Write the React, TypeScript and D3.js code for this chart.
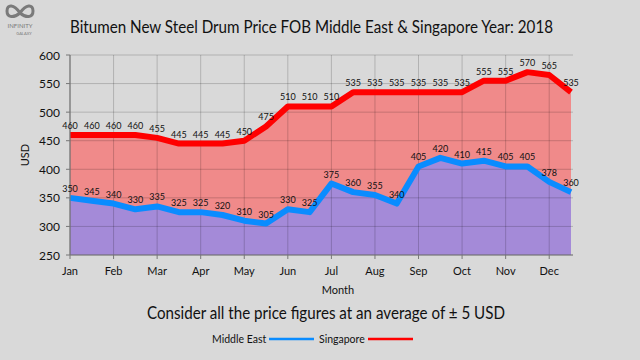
import React from "react";
import * as d3 from "d3";

const months = ["Jan", "Feb", "Mar", "Apr", "May", "Jun", "Jul", "Aug", "Sep", "Oct", "Nov", "Dec"];
// two readings per month
const singapore = [460, 460, 460, 460, 455, 445, 445, 445, 450, 475, 510, 510, 510, 535, 535, 535, 535, 535, 535, 555, 555, 570, 565, 535];
const middleEast = [350, 345, 340, 330, 335, 325, 325, 320, 310, 305, 330, 325, 375, 360, 355, 340, 405, 420, 410, 415, 405, 405, 378, 360];
const yTicks = [250, 300, 350, 400, 450, 500, 550, 600];

const FONT = "Lato, 'Open Sans', sans-serif";

const App = () => {
  const width = 640;
  const height = 360;
  const left = 70;
  const right = 573;
  const top = 55;
  const bottom = 255;

  const x = d3.scaleLinear().domain([0, singapore.length - 1]).range([left, 571]);
  const y = d3.scaleLinear().domain([250, 600]).range([bottom, top]);

  const area = d3
    .area<number>()
    .x((_, i) => x(i))
    .y0(y(250))
    .y1((d) => y(d));
  const line = d3
    .line<number>()
    .x((_, i) => x(i))
    .y((d) => y(d));

  return (
    <svg width={width} height={height} style={{ position: "absolute", left: 0, top: 0, background: "#d9d9d9" }}>
      <rect width={width} height={height} fill="#d9d9d9" />

      {/* logo */}
      <g fill="none" stroke="#7a7a7a" strokeWidth={3}>
        <path d="M20,13 C14,4 7,4 7,11 C7,18 14,18 20,13 C26,4 33,4 33,11 C33,18 26,18 20,13 Z" />
      </g>
      <text x={20} y={28} fontSize={6} fill="#7a7a7a" textAnchor="middle" fontFamily={FONT}>INFINITY</text>
      <text x={24} y={35} fontSize={4} fill="#7a7a7a" textAnchor="middle" fontFamily={FONT}>GALAXY</text>

      <text x={70} y={33} fontSize={16.5} fill="#111" fontFamily={FONT} textLength={483} lengthAdjust="spacingAndGlyphs">
        Bitumen New Steel Drum Price FOB Middle East &amp; Singapore Year: 2018
      </text>

      {/* areas */}
      <path d={area(singapore) ?? ""} fill="#f08a8a" />
      <path d={area(middleEast) ?? ""} fill="#a48ad8" />

      {/* grid */}
      {yTicks.map((t) => (
        <line key={"h" + t} x1={left} x2={right} y1={y(t)} y2={y(t)} stroke="#000" strokeOpacity={0.18} strokeWidth={1} />
      ))}
      {months.map((m, i) => (
        <line key={"v" + m} x1={x(i * 2)} x2={x(i * 2)} y1={top} y2={bottom} stroke="#000" strokeOpacity={0.18} strokeWidth={1} />
      ))}

      {/* lines */}
      <path d={line(singapore) ?? ""} fill="none" stroke="#ff0000" strokeWidth={6} strokeLinejoin="round" />
      <path d={line(middleEast) ?? ""} fill="none" stroke="#0a8cff" strokeWidth={6} strokeLinejoin="round" />

      {/* axes */}
      <line x1={left} x2={left} y1={top} y2={bottom} stroke="#777" strokeWidth={1.2} />
      <line x1={left} x2={right} y1={bottom} y2={bottom} stroke="#777" strokeWidth={1.2} />
      {yTicks.map((t) => (
        <g key={"yt" + t}>
          <line x1={left - 4} x2={left} y1={y(t)} y2={y(t)} stroke="#777" />
          <text x={left - 10} y={y(t) + 4.5} fontSize={12} textAnchor="end" fill="#111" fontFamily={FONT}>
            {t}
          </text>
        </g>
      ))}
      {months.map((m, i) => (
        <g key={"xt" + m}>
          <line x1={x(i * 2)} x2={x(i * 2)} y1={bottom} y2={bottom + 4} stroke="#777" />
          <text x={x(i * 2)} y={bottom + 20} fontSize={11} textAnchor="middle" fill="#111" fontFamily={FONT}>
            {m}
          </text>
        </g>
      ))}
      <text x={338} y={294} fontSize={11} textAnchor="middle" fill="#111" fontFamily={FONT}>Month</text>
      <text transform={`translate(29,155) rotate(-90)`} fontSize={11} textAnchor="middle" fill="#111" fontFamily={FONT}>USD</text>

      {/* data labels */}
      {singapore.map((v, i) => (
        <text key={"sl" + i} x={x(i)} y={y(v) - 6} fontSize={9} textAnchor="middle" fill="#111" fontFamily={FONT}>
          {v}
        </text>
      ))}
      {middleEast.map((v, i) => (
        <text key={"ml" + i} x={x(i)} y={y(v) - 6} fontSize={9} textAnchor="middle" fill="#111" fontFamily={FONT}>
          {v}
        </text>
      ))}

      <text x={326} y={319} fontSize={16.5} textAnchor="middle" fill="#111" fontFamily={FONT} textLength={358} lengthAdjust="spacingAndGlyphs">
        Consider all the price figures at an average of ± 5 USD
      </text>

      {/* legend */}
      <text x={212} y={343} fontSize={10.5} fill="#111" fontFamily={FONT}>Middle East</text>
      <line x1={269} x2={314} y1={339} y2={339} stroke="#0a8cff" strokeWidth={2.5} />
      <text x={319} y={343} fontSize={10.5} fill="#111" fontFamily={FONT}>Singapore</text>
      <line x1={368} x2={413} y1={339} y2={339} stroke="#ff0000" strokeWidth={2.5} />
    </svg>
  );
};

export default App;
